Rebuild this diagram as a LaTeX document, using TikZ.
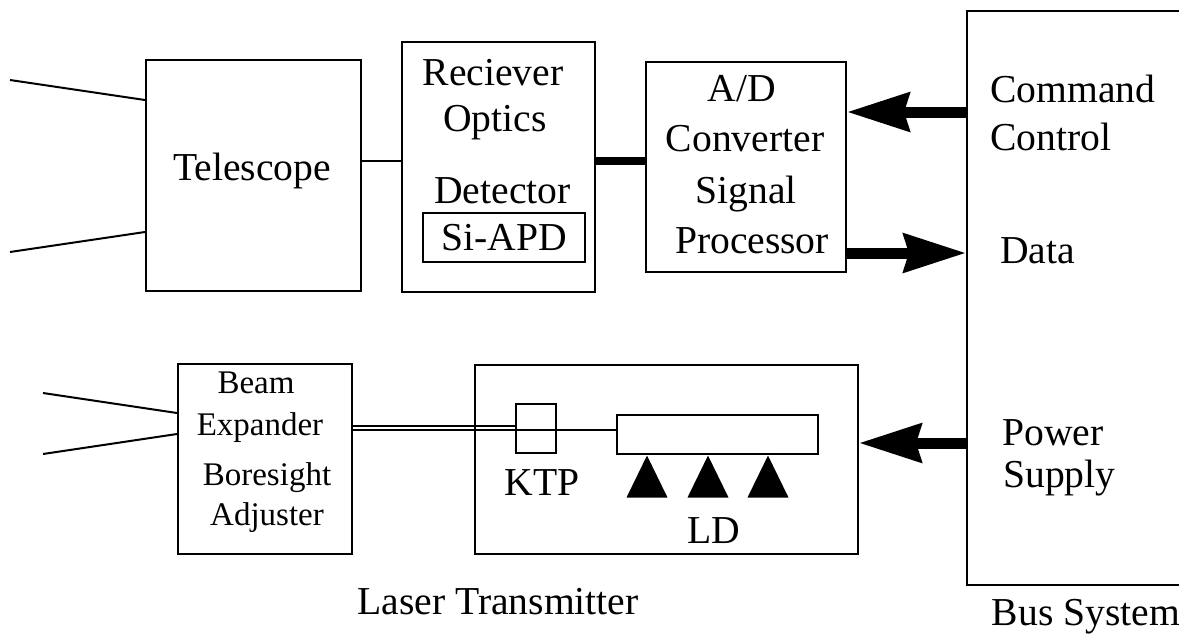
\documentclass[tikz,border=0pt]{standalone}
\usepackage{fontspec}
\setmainfont{Liberation Serif}
\usetikzlibrary{arrows.meta,positioning,shapes.geometric}

\begin{document}
\begin{tikzpicture}[
  x=1pt, y=-1pt,
  font=\fontsize{39.6}{44}\selectfont,
  box/.style={draw, line width=2pt, inner sep=0pt},
  lbl/.style={anchor=base, inner sep=0pt},
  lblw/.style={anchor=base west, inner sep=0pt},
  beamfont/.style={font=\fontsize{33}{38}\selectfont},
  ray/.style={line width=2pt},
  link/.style={line width=2.5pt},
  heavy/.style={line width=8pt},
  big/.style={line width=11pt, -{Stealth[length=62pt, width=38pt, inset=5pt]}},
  diode/.style={fill, isosceles triangle, shape border rotate=90, isosceles triangle stretches,
    minimum width=41pt, minimum height=42pt, inner sep=0pt}
]
\useasboundingbox (0,0) rectangle (1179,643);
\clip (0,0) rectangle (1179,643);

\node[box, minimum width=215pt, minimum height=231pt] (tel) at (253.5,175.5) {};
\node[box, minimum width=193pt, minimum height=250pt] (rec) at (498.5,167) {};
\node[box, minimum width=162pt, minimum height=49pt] (apd) at (504,237.5) {Si-APD};
\node[box, minimum width=200pt, minimum height=210pt] (ad) at (746,167) {};
\node[box, minimum width=233pt, minimum height=574pt] (bus) at (1083.5,298) {};
\node[box, minimum width=174pt, minimum height=190pt] (beam) at (265,459) {};
\node[box, minimum width=383pt, minimum height=189pt] (las) at (666.5,459.5) {};
\node[box, minimum width=40pt, minimum height=49pt] (ktp) at (536,428.5) {};
\node[box, minimum width=201pt, minimum height=39pt] (ld) at (717.5,434.5) {};
\foreach \dx [count=\i] in {-70.5,-9.5,50.5}
  \node[diode, anchor=apex] (d\i) at ([xshift=\dx pt]ld.south) {};

\node[lbl] (telt) at (252,180) {Telescope};
\node[lbl] (rect) at (493,85) {Reciever};
\node[lbl] (opt) at (495,131) {Optics};
\node[lbl] (det) at (502.5,203) {Detector};
\node[lbl] (adt) at (742,101) {A/D};
\node[lbl] (conv) at (745,151) {Converter};
\node[lbl] (sig) at (746,203) {Signal};
\node[lbl] (proc) at (752,253) {Processor};
\node[lblw] (cmdt) at (990,102) {Command};
\node[lblw] (ctrl) at (990,150) {Control};
\node[lblw] (datt) at (1000,263) {Data};
\node[lblw] (pow) at (1002,445) {Power};
\node[lblw] (sup) at (1003,487) {Supply};
\node[lbl] (bust) at (1086,625) {Bus System};
\node[lbl] (last) at (498,614) {Laser Transmitter};
\node[lbl, beamfont] (bm) at (256,393) {Beam};
\node[lbl, beamfont] (exp) at (260,435) {Expander};
\node[lbl, beamfont] (bore) at (267,485) {Boresight};
\node[lbl, beamfont] (adj) at (267,525) {Adjuster};
\node[lbl] (ktpt) at (542,495) {KTP};
\node[lbl] (ldt) at (714,543) {LD};

\coordinate (in1) at (10,80);
\coordinate (in2) at (10,252);
\coordinate (in3) at (43,393);
\coordinate (in4) at (43,454);
\coordinate (sg) at (0,161);
\coordinate (cmd) at (0,112);
\coordinate (dat) at (0,253);
\coordinate (pwr) at (0,443);
\coordinate (ax) at (0,430);

\draw[ray] (in1) -- (tel.west |- 0,100);
\draw[ray] (in2) -- (tel.west |- 0,232);
\draw[ray] (in3) -- (beam.west |- 0,413);
\draw[ray] (in4) -- (beam.west |- 0,434);
\draw[link] (tel.east |- sg) -- (rec.west |- sg);
\draw[heavy] (rec.east |- sg) -- (ad.west |- sg);
\draw[big] (bus.west |- cmd) -- (ad.east |- cmd);
\draw[big] (ad.east |- dat) -- (bus.west |- dat);
\draw[big] (bus.west |- pwr) -- (las.east |- pwr);
\draw[ray] (beam.east |- ax) -- (ld.west |- ax);
\draw[ray] ([yshift=4.5pt]beam.east |- ax) -- ([yshift=4.5pt]ktp.west |- ax);
\end{tikzpicture}
\end{document}
